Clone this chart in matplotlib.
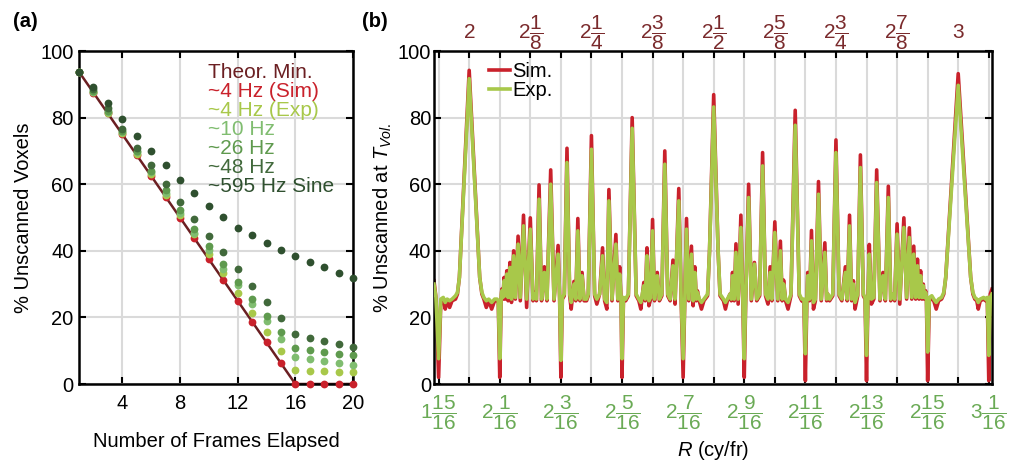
import numpy as np
import matplotlib
matplotlib.use("Agg")
import matplotlib.pyplot as plt

plt.rcParams["font.family"] = ["Liberation Sans", "DejaVu Sans"]
plt.rcParams["mathtext.fontset"] = "custom"
plt.rcParams["mathtext.rm"] = "Liberation Sans"
plt.rcParams["mathtext.it"] = "Liberation Sans:italic"
plt.rcParams["mathtext.bf"] = "Liberation Sans:bold"

# ---------------- panel (a): unscanned voxels vs frames ----------------
frames = [1, 2, 3, 4, 5, 6, 7, 8, 9, 10, 11, 12, 13, 14, 15, 16, 17, 18, 19, 20]
theor_frames = [1, 16, 20]
theor_vals = [93.75, 0, 0]
sim_4hz = [93.75, 87.5, 81.25, 75.0, 68.75, 62.5, 56.25, 50.0, 43.75, 37.5,
           31.25, 25.0, 18.75, 12.5, 6.25, 0, 0, 0, 0, 0]
exp_4hz = [93.75, 87.6, 81.4, 75.3, 69.2, 63.0, 56.9, 50.8, 44.9, 39.1,
           33.3, 27.3, 21.3, 15.5, 9.8, 4.1, 3.9, 3.8, 3.7, 3.6]
hz_10 = [93.75, 87.8, 81.7, 75.7, 69.6, 63.6, 57.5, 51.5, 45.4, 40.2,
         34.6, 29.6, 24.1, 18.8, 13.5, 8.2, 7.6, 6.8, 6.3, 5.8]
hz_26 = [93.75, 88.0, 82.0, 76.0, 70.0, 64.0, 58.2, 52.2, 46.7, 41.4,
         36.0, 30.6, 25.5, 20.3, 15.5, 10.8, 10.2, 9.5, 9.0, 8.6]
hz_48 = [93.75, 88.5, 82.8, 76.6, 70.9, 65.7, 60.0, 54.8, 49.7, 44.5,
         39.5, 34.4, 29.4, 24.6, 19.7, 15.0, 13.9, 13.0, 12.0, 11.0]
hz_595 = [93.75, 89.3, 84.3, 79.5, 74.6, 70.1, 65.7, 61.3, 57.3, 53.5,
          50.3, 46.8, 44.7, 42.4, 40.2, 38.4, 36.6, 35.1, 33.4, 31.9]

C_THEOR = "#6b1f22"
C_SIM = "#c9212b"
C_EXP = "#a8c84a"
C_10 = "#80bd70"
C_26 = "#5f9a4e"
C_48 = "#41693b"
C_595 = "#2f502f"

# ---------------- panel (b): unscanned at T_vol vs R ----------------
r_vals = [
    1.928, 1.932, 1.9375, 1.942, 1.947, 1.951, 1.955, 1.960, 1.965, 1.972,
    1.976, 1.980, 2.000, 2.0215, 2.026, 2.030, 2.035, 2.040, 2.046, 2.052,
    2.057, 2.0595, 2.0625, 2.0655, 2.0667, 2.069, 2.0714, 2.0735, 2.0769, 2.0795,
    2.0833, 2.0865, 2.0909, 2.0945, 2.1000, 2.1045, 2.1111, 2.1175, 2.1250, 2.1305,
    2.1333, 2.1375, 2.1429, 2.1480, 2.1538, 2.1590, 2.1667, 2.1735, 2.1818, 2.1850,
    2.1875, 2.1905, 2.1945, 2.2000, 2.2055, 2.2086, 2.2143, 2.2180, 2.2222, 2.2265,
    2.2308, 2.2350, 2.2400, 2.2435, 2.2500, 2.2565, 2.2610, 2.2667, 2.2727, 2.2770,
    2.2815, 2.2857, 2.2920, 2.3000, 2.3040, 2.3077, 2.3105, 2.3125, 2.3155, 2.3200,
    2.3255, 2.3333, 2.3415, 2.3470, 2.3510, 2.3571, 2.3600, 2.3636, 2.3675, 2.3710,
    2.3750, 2.3790, 2.3846, 2.3890, 2.3940, 2.4000, 2.4060, 2.4110, 2.4167, 2.4210,
    2.4286, 2.4335, 2.4375, 2.4410, 2.4444, 2.4490, 2.4545, 2.4580, 2.4615, 2.4645,
    2.4667, 2.4705, 2.4750, 2.4800, 2.4875, 2.4915, 2.5000, 2.5090, 2.5130, 2.5200,
    2.5240, 2.5280, 2.5333, 2.5360, 2.5385, 2.5420, 2.5455, 2.5500, 2.5556, 2.5595,
    2.5625, 2.5655, 2.5714, 2.5770, 2.5833, 2.5880, 2.5940, 2.6000, 2.6060, 2.6110,
    2.6154, 2.6190, 2.6250, 2.6310, 2.6364, 2.6400, 2.6429, 2.6470, 2.6520, 2.6580,
    2.6667, 2.6750, 2.6800, 2.6845, 2.6875, 2.6905, 2.6923, 2.6960, 2.7000, 2.7040,
    2.7080, 2.7143, 2.7200, 2.7273, 2.7310, 2.7333, 2.7370, 2.7435, 2.7500, 2.7565,
    2.7620, 2.7692, 2.7730, 2.7778, 2.7820, 2.7857, 2.7890, 2.7945, 2.8000, 2.8060,
    2.8095, 2.8125, 2.8155, 2.8182, 2.8225, 2.8275, 2.8333, 2.8400, 2.8462, 2.8510,
    2.8571, 2.8620, 2.8667, 2.8700, 2.8750, 2.8805, 2.8889, 2.8945, 2.9000, 2.9050,
    2.9091, 2.9130, 2.9167, 2.9200, 2.9231, 2.9260, 2.9286, 2.9310, 2.9333, 2.9350,
    2.9375, 2.9410, 2.9460, 2.9500, 2.9550, 2.9600, 2.9660, 2.9705, 2.9745, 3.0000,
    3.0255, 3.0300, 3.0340, 3.0380, 3.0410, 3.0450, 3.0520, 3.0560, 3.0595, 3.0625,
    3.0655, 3.0690,
]
sim_vals = [
    31.0, 26.0, 2.0, 25.0, 25.5, 22.5, 25.0, 23.0, 25.0, 25.5,
    27.0, 32.0, 94.2, 32.0, 27.0, 25.5, 23.0, 25.0, 22.5, 25.0,
    25.0, 24.5, 2.0, 26.0, 28.5, 25.5, 32.0, 25.5, 34.0, 25.0,
    36.5, 24.5, 40.0, 25.5, 44.4, 25.0, 50.7, 23.0, 49.9, 25.0,
    27.5, 25.0, 59.8, 25.0, 35.2, 25.0, 64.3, 25.0, 41.6, 25.5,
    2.0, 25.5, 26.5, 70.8, 26.5, 22.5, 30.8, 25.0, 49.7, 25.0,
    33.5, 25.0, 25.0, 26.5, 74.6, 26.5, 24.0, 27.0, 40.9, 25.0,
    22.5, 58.4, 25.0, 44.9, 25.0, 35.2, 25.5, 2.0, 25.5, 25.0,
    26.5, 80.0, 26.5, 25.0, 22.5, 30.5, 25.0, 40.9, 23.5, 25.5,
    49.4, 25.0, 33.5, 25.0, 26.5, 70.0, 26.5, 25.0, 37.2, 24.0,
    58.7, 25.5, 2.0, 25.5, 49.7, 25.0, 41.4, 23.5, 35.2, 25.0,
    28.0, 25.0, 22.5, 25.0, 26.5, 40.0, 86.9, 40.0, 26.5, 25.0,
    22.5, 25.0, 27.0, 25.0, 33.5, 25.0, 42.1, 24.0, 50.7, 25.5,
    2.0, 25.5, 60.0, 25.0, 36.5, 25.0, 26.5, 69.5, 26.5, 24.0,
    35.2, 25.0, 48.7, 25.0, 42.9, 25.0, 31.2, 25.0, 22.5, 26.5,
    82.2, 26.5, 25.0, 24.5, 1.0, 25.0, 33.5, 25.0, 46.1, 22.5,
    25.0, 60.8, 25.0, 42.4, 25.0, 27.0, 25.0, 26.5, 73.3, 26.5,
    25.0, 35.2, 25.0, 50.7, 25.0, 31.0, 22.5, 26.5, 68.8, 26.5,
    25.5, 1.0, 25.5, 41.9, 24.0, 25.5, 64.3, 25.0, 33.5, 25.0,
    59.4, 25.0, 27.0, 25.0, 48.1, 24.0, 49.9, 25.5, 46.9, 25.5,
    41.4, 25.5, 37.5, 25.5, 34.0, 25.5, 30.0, 25.5, 28.0, 25.5,
    1.0, 25.5, 25.5, 25.0, 22.5, 25.0, 25.5, 27.0, 32.0, 93.2,
    32.0, 27.0, 25.5, 25.0, 22.5, 25.0, 25.5, 25.0, 25.5, 1.0,
    27.0, 28.5,
]
exp_vals = [
    30.0, 26.0, 7.6, 25.5, 26.0, 24.5, 25.5, 25.0, 25.5, 26.5,
    27.5, 32.0, 91.7, 32.0, 27.5, 26.0, 25.0, 25.5, 24.5, 25.5,
    25.5, 25.0, 7.6, 26.5, 28.0, 26.0, 31.0, 26.5, 33.0, 26.0,
    35.0, 25.5, 38.5, 26.0, 42.0, 26.0, 47.5, 25.5, 46.5, 25.5,
    27.0, 25.5, 55.5, 25.5, 33.5, 25.5, 60.0, 25.5, 39.0, 26.0,
    7.1, 26.0, 27.0, 66.5, 27.0, 24.5, 30.0, 25.5, 46.0, 25.5,
    32.5, 25.5, 25.5, 27.0, 70.5, 27.0, 25.5, 27.0, 38.5, 25.5,
    24.5, 55.0, 25.5, 42.0, 25.5, 33.0, 26.0, 7.6, 26.0, 25.5,
    27.0, 76.8, 27.0, 25.5, 24.5, 29.5, 25.5, 38.5, 25.0, 26.0,
    46.0, 25.5, 32.5, 25.5, 27.0, 66.0, 27.0, 25.5, 35.5, 25.5,
    55.0, 26.0, 7.6, 26.0, 46.5, 25.5, 39.0, 25.0, 33.5, 25.5,
    27.5, 25.5, 24.5, 25.5, 27.0, 40.0, 83.2, 40.0, 27.0, 25.5,
    24.5, 25.5, 27.0, 25.5, 32.5, 25.5, 39.5, 25.5, 47.0, 26.0,
    7.6, 26.0, 56.0, 25.5, 36.0, 25.5, 27.0, 65.5, 27.0, 25.5,
    33.5, 25.5, 45.5, 25.5, 40.0, 25.5, 30.0, 25.5, 24.5, 27.0,
    77.7, 27.0, 25.5, 25.5, 9.1, 25.5, 32.5, 25.5, 43.0, 24.5,
    25.5, 57.0, 25.5, 39.5, 25.5, 27.0, 25.5, 27.0, 69.5, 27.0,
    25.5, 33.5, 25.5, 47.5, 25.5, 30.0, 24.5, 27.0, 65.0, 27.0,
    26.0, 8.6, 26.0, 39.0, 25.5, 26.0, 60.5, 25.5, 32.5, 25.5,
    56.0, 25.5, 27.0, 25.5, 45.0, 25.5, 47.0, 26.0, 44.0, 26.0,
    39.0, 26.0, 35.5, 26.0, 32.5, 26.0, 29.5, 26.0, 27.5, 26.0,
    9.6, 26.0, 26.5, 25.5, 24.5, 25.5, 26.0, 27.5, 32.0, 89.7,
    32.0, 27.5, 26.0, 25.5, 24.5, 25.5, 26.0, 25.5, 26.0, 8.6,
    26.0, 27.0,
]

top_ticks = [2.0, 2.125, 2.25, 2.375, 2.5, 2.625, 2.75, 2.875, 3.0]
top_labels = [r"$2$", r"$2\dfrac{1}{8}$", r"$2\dfrac{1}{4}$", r"$2\dfrac{3}{8}$",
              r"$2\dfrac{1}{2}$", r"$2\dfrac{5}{8}$", r"$2\dfrac{3}{4}$",
              r"$2\dfrac{7}{8}$", r"$3$"]
bottom_labels = [r"$1\dfrac{15}{16}$", "", r"$2\dfrac{1}{16}$", "", r"$2\dfrac{3}{16}$", "",
                 r"$2\dfrac{5}{16}$", "", r"$2\dfrac{7}{16}$", "", r"$2\dfrac{9}{16}$", "",
                 r"$2\dfrac{11}{16}$", "", r"$2\dfrac{13}{16}$", "", r"$2\dfrac{15}{16}$", "",
                 r"$3\dfrac{1}{16}$"]

C_TOP = "#7a2a2c"
C_BOT = "#6aaa55"
GRID = "#dadada"
FS = 14.5

fig = plt.figure(figsize=(10.09, 4.63), dpi=100)
ax1 = fig.add_axes([0.0783, 0.1706, 0.2716, 0.7192])
ax2 = fig.add_axes([0.4301, 0.1706, 0.5530, 0.7192])

for ax in (ax1, ax2):
    ax.set_axisbelow(True)
    ax.grid(True, color=GRID, lw=1.5)
    for s in ax.spines.values():
        s.set_linewidth(1.8)
    ax.tick_params(direction="in", top=True, right=True, length=5, width=1.5,
                   labelsize=FS, colors="black")

# panel (a)
theor, = ax1.plot(theor_frames, theor_vals, color=C_THEOR, lw=1.8, zorder=2)
series = [(sim_4hz, C_SIM, "~4 Hz (Sim)"), (exp_4hz, C_EXP, "~4 Hz (Exp)"),
          (hz_10, C_10, "~10 Hz"), (hz_26, C_26, "~26 Hz"),
          (hz_48, C_48, "~48 Hz"), (hz_595, C_595, "~595 Hz Sine")]
handles = [theor]
labels = ["Theor. Min."]
for vals, col, lab in series:
    h, = ax1.plot(frames, vals, "o", ms=5.6, color=col, mec="none",
                  clip_on=False, zorder=3)
    handles.append(h)
    labels.append(lab)
ax1.set_xlim(1, 20)
ax1.set_ylim(0, 100)
ax1.set_xticks([4, 8, 12, 16, 20])
ax1.set_yticks([0, 20, 40, 60, 80, 100])
ax1.tick_params(axis="x", pad=7)
ax1.tick_params(axis="y", pad=4)
ax1.set_xlabel("Number of Frames Elapsed", fontsize=FS, labelpad=14)
ax1.set_ylabel("% Unscanned Voxels", fontsize=FS, labelpad=5)
leg1 = ax1.legend(handles, labels, loc="upper left", bbox_to_anchor=(0.44, 0.99),
                  frameon=False, handlelength=0, handletextpad=0,
                  labelspacing=0.0, borderaxespad=0, fontsize=15,
                  labelcolor=[C_THEOR, C_SIM, C_EXP, C_10, C_26, C_48, C_595])
for h in leg1.legend_handles:
    h.set_visible(False)

# panel (b)
ax2.plot(r_vals, sim_vals, color=C_SIM, lw=2.6, label="Sim.", zorder=2)
ax2.plot(r_vals, exp_vals, color=C_EXP, lw=2.6, label="Exp.", zorder=3)
ax2.set_xlim(1.928, 3.069)
ax2.set_ylim(0, 100)
sixteenths = np.arange(31, 50) / 16.0
ax2.set_xticks(sixteenths)
ax2.set_xticklabels(bottom_labels, color=C_BOT, fontsize=15)
ax2.tick_params(axis="x", pad=7)
ax2.tick_params(axis="y", pad=2)
ax2.set_yticks([0, 20, 40, 60, 80, 100])
for xt, lab in zip(top_ticks, top_labels):
    ax2.text(xt, 1.056, lab, transform=ax2.get_xaxis_transform(), ha="center",
             va="center", color=C_TOP, fontsize=15)
ax2.set_xlabel(r"$R$ (cy/fr)", fontsize=FS, labelpad=5)
ax2.set_ylabel(r"% Unscanned at $T_{Vol.}$", fontsize=FS, labelpad=3)
ax2.legend(loc="upper left", bbox_to_anchor=(0.085, 0.99), frameon=False,
           handlelength=1.0, handletextpad=0.15, labelspacing=0.0,
           borderaxespad=0, fontsize=FS)

fig.text(0.0126, 0.954, "(a)", fontsize=14.5, fontweight="bold", va="center")
fig.text(0.3585, 0.954, "(b)", fontsize=14.5, fontweight="bold", va="center")

fig.savefig("out.png", dpi=100)
